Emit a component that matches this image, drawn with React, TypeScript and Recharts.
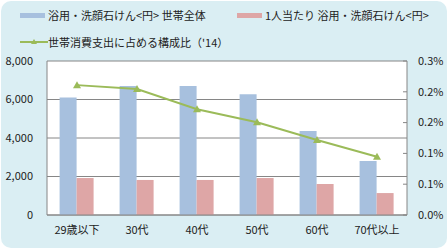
import {
  ComposedChart, Bar, Line, XAxis, YAxis, CartesianGrid,
} from "recharts";

const categories = ["29歳以下", "30代", "40代", "50代", "60代", "70代以上"];
const householdSoap = [6110, 6700, 6700, 6270, 4360, 2800];
const perPersonSoap = [1920, 1820, 1820, 1920, 1610, 1140];
const shareOfSpending = [0.253, 0.2455, 0.206, 0.1805, 0.146, 0.1135];

const leftTicks = [0, 2000, 4000, 6000, 8000];
const rightTicks = [0, 0.06, 0.12, 0.18, 0.24, 0.3];

const data = categories.map((name, i) => ({
  name,
  household: householdSoap[i],
  perPerson: perPersonSoap[i],
  share: shareOfSpending[i],
}));

const BLUE = "#a7c0de";
const PINK = "#dea6a6";
const GREEN = "#9bbb59";
const GRID = "#868686";
const TEXT = "#222";
const FONT = "'Noto Sans CJK JP', 'Noto Sans', sans-serif";

const legendText = { fontSize: 11, color: TEXT, fontFamily: FONT, lineHeight: "14px" };

const RightTick = (props: any) => {
  const { x, y, payload } = props;
  return (
    <g>
      <line x1={x - 15} x2={x - 11} y1={y} y2={y} stroke={GRID} />
      <text x={x} y={y} dy="0.35em" fontSize={11} fill={TEXT} fontFamily={FONT}>
        {`${payload.value.toFixed(1)}%`}
      </text>
    </g>
  );
};

const App = () => {
  return (
    <div style={{ position: "absolute", left: 0, top: 0, width: 448, height: 250 }}>
      <style>{"body{margin:0}"}</style>
      <div
        style={{
          position: "absolute", left: 1, top: 1, width: 446, height: 247,
          background: "#daeef3", borderRadius: 10,
        }}
      />
      {/* legend */}
      <div style={{ position: "absolute", left: 20, top: 8, display: "flex", alignItems: "center", ...legendText }}>
        <span style={{ width: 25, height: 5, background: BLUE, marginRight: 3 }} />
        浴用・洗顔石けん&lt;円&gt; 世帯全体
      </div>
      <div style={{ position: "absolute", left: 237, top: 8, display: "flex", alignItems: "center", ...legendText }}>
        <span style={{ width: 25, height: 5, background: PINK, marginRight: 3 }} />
        1人当たり 浴用・洗顔石けん&lt;円&gt;
      </div>
      <div style={{ position: "absolute", left: 20, top: 35, display: "flex", alignItems: "center", ...legendText }}>
        <svg width={28} height={8} style={{ marginRight: 0 }}>
          <line x1={0} x2={28} y1={4} y2={4} stroke={GREEN} strokeWidth={2} />
          <polygon points="14,1 17,6 11,6" fill={GREEN} />
        </svg>
        世帯消費支出に占める構成比（'14）
      </div>
      <div style={{ position: "absolute", left: 0, top: 0 }}>
        <ComposedChart
          width={448}
          height={250}
          data={data}
          margin={{ top: 61, right: 0, bottom: 5, left: 0 }}
          barCategoryGap="21%"
          barGap={0}
        >
          <CartesianGrid yAxisId="left" vertical={false} stroke={GRID} fill="#fff" fillOpacity={1} />
          <XAxis
            dataKey="name"
            height={30}
            tickLine={false}
            tickSize={0}
            tickMargin={11}
            axisLine={{ stroke: GRID }}
            tick={{ fontSize: 11, fill: TEXT, fontFamily: FONT }}
            interval={0}
          />
          <YAxis
            yAxisId="left"
            width={47}
            domain={[0, 8000]}
            ticks={leftTicks}
            tickLine={false}
            tickSize={0}
            tickMargin={14}
            axisLine={{ stroke: GRID }}
            tickFormatter={(v: number) => v.toLocaleString("en-US")}
            tick={{ fontSize: 11, fill: TEXT, fontFamily: FONT }}
          />
          <YAxis
            yAxisId="right"
            orientation="right"
            width={41}
            domain={[0, 0.3]}
            ticks={rightTicks}
            tickLine={false}
            tickSize={0}
            tickMargin={11}
            axisLine={{ stroke: GRID }}
            tick={<RightTick />}
          />
          <Bar yAxisId="left" dataKey="household" fill={BLUE} isAnimationActive={false} />
          <Bar yAxisId="left" dataKey="perPerson" fill={PINK} isAnimationActive={false} />
          <Line
            yAxisId="right"
            dataKey="share"
            stroke={GREEN}
            strokeWidth={2}
            isAnimationActive={false}
            dot={(p: any) => (
              <polygon
                key={p.index}
                points={`${p.cx},${p.cy - 4} ${p.cx + 4},${p.cy + 3} ${p.cx - 4},${p.cy + 3}`}
                fill={GREEN}
              />
            )}
          />
        </ComposedChart>
      </div>
    </div>
  );
};

export default App;
